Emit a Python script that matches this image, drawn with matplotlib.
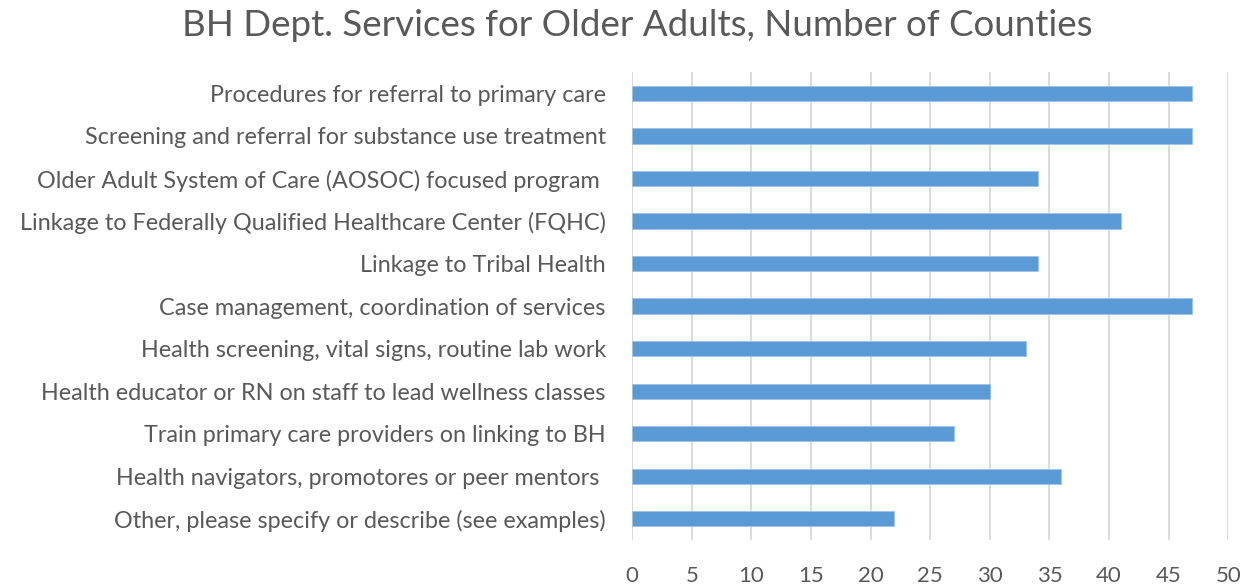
import matplotlib
matplotlib.use("Agg")
import matplotlib.pyplot as plt

categories = [
    "Procedures for referral to primary care",
    "Screening and referral for substance use treatment",
    "Older Adult System of Care (AOSOC) focused program ",
    "Linkage to Federally Qualified Healthcare Center (FQHC)",
    "Linkage to Tribal Health",
    "Case management, coordination of services",
    "Health screening, vital signs, routine lab work",
    "Health educator or RN on staff to lead wellness classes",
    "Train primary care providers on linking to BH",
    "Health navigators, promotores or peer mentors ",
    "Other, please specify or describe (see examples)",
]
counties = [47, 47, 34, 41, 34, 47, 33, 30, 27, 36, 22]
x_ticks = [0, 5, 10, 15, 20, 25, 30, 35, 40, 45, 50]

plt.rcParams["font.family"] = ["Lato", "DejaVu Sans"]
text_color = "#595959"

fig = plt.figure(figsize=(12.52, 5.87), dpi=100)
ax = fig.add_axes([0.505, 0.080, 0.476, 0.797])

y = list(range(len(categories)))
ax.barh(y, counties, height=0.36, color="#5b9bd5", edgecolor="#9dc3e6", linewidth=0.6, zorder=3)

ax.set_ylim(len(categories) - 0.5, -0.5)
ax.set_xlim(0, 50)
ax.set_xticks(x_ticks)
ax.set_yticks(y)
ax.set_yticklabels(categories)
ax.tick_params(axis="both", length=0, colors=text_color)
ax.tick_params(axis="x", pad=19, labelsize=16)
ax.tick_params(axis="y", pad=19, labelsize=16.8)

ax.xaxis.grid(True, color="#d9d9d9", linewidth=1.3, zorder=0)
for s in ax.spines.values():
    s.set_visible(False)

fig.suptitle("BH Dept. Services for Older Adults, Number of Counties",
             x=0.509, y=0.985, fontsize=26.5, color=text_color)

fig.savefig("out.png", dpi=100)
